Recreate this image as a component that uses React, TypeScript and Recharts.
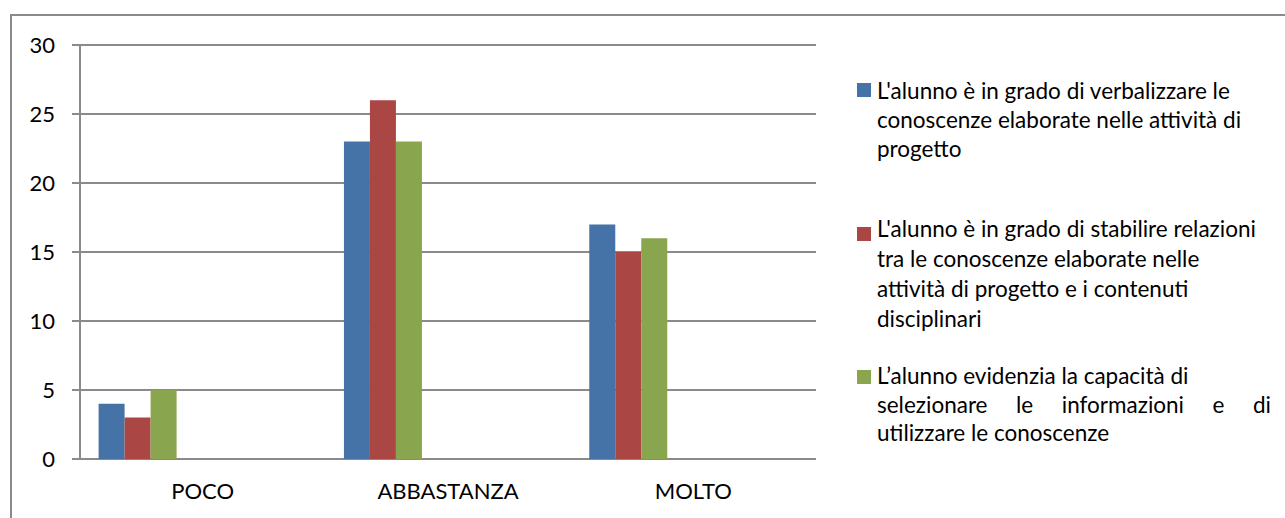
import React from 'react';
import { BarChart, Bar, XAxis, YAxis, CartesianGrid } from 'recharts';

const categories = ['POCO', 'ABBASTANZA', 'MOLTO'];
const verbalizzare = [4, 23, 17];
const relazioni = [3, 26, 15];
const selezionare = [5, 23, 16];
const yTicks = [0, 5, 10, 15, 20, 25, 30];
const edgeTicks = [0, 1, 2, 3];

const COLORS = ['#4572A7', '#AA4643', '#89A54E'];
const GRID = '#8a8a8a';
const FONT = 'Lato, "Open Sans", sans-serif';

const data = categories.map((name, i) => ({
  name,
  s1: verbalizzare[i],
  s2: relazioni[i],
  s3: selezionare[i],
}));

// legend lines kept as written in the original
const legendItems = [
  {
    color: COLORS[0],
    top: 76,
    box: 83,
    lh: 29,
    lines: ["L'alunno è in grado di verbalizzare le", 'conoscenze elaborate nelle attività di', 'progetto'],
  },
  {
    color: COLORS[1],
    top: 214,
    box: 227,
    lh: 30,
    lines: ["L'alunno è in grado di stabilire relazioni", 'tra le conoscenze elaborate nelle', 'attività di progetto e i contenuti', 'disciplinari'],
  },
  {
    color: COLORS[2],
    top: 362,
    box: 370,
    lh: 28.5,
    lines: ['L’alunno evidenzia la capacità di', 'selezionare le informazioni e di', 'utilizzare le conoscenze'],
    justify: 1,
  },
];

export default function App() {
  return (
    <div style={{ position: 'absolute', left: 0, top: 0, width: 1285, height: 518, background: '#fff', overflow: 'hidden', fontFamily: FONT }}>
      <div
        style={{
          position: 'absolute',
          left: 10,
          top: 14,
          width: 1300,
          height: 520,
          borderTop: `2px solid ${GRID}`,
          borderLeft: `2px solid ${GRID}`,
        }}
      />
      <div style={{ position: 'absolute', left: 0, top: 0 }}>
        <BarChart
          width={840}
          height={518}
          data={data}
          margin={{ top: 45, right: 24, bottom: 0, left: 0 }}
          barCategoryGap={18.6}
          barGap={0}
        >
          <CartesianGrid vertical={false} stroke={GRID} strokeWidth={2} />
          <XAxis
            xAxisId="edges"
            type="number"
            domain={[0, 3]}
            ticks={edgeTicks}
            height={0}
            tick={false}
            tickSize={8}
            tickLine={{ stroke: GRID, strokeWidth: 2 }}
            axisLine={{ stroke: GRID, strokeWidth: 2 }}
          />
          <XAxis
            dataKey="name"
            height={59}
            axisLine={false}
            tickLine={false}
            tickSize={0}
            tickMargin={24}
            tick={{ fill: '#000', fontSize: 22, fontFamily: FONT }}
          />
          <YAxis
            width={80}
            domain={[0, 30]}
            ticks={yTicks}
            tickSize={8}
            tickMargin={17}
            axisLine={{ stroke: GRID, strokeWidth: 2 }}
            tickLine={{ stroke: GRID, strokeWidth: 2 }}
            tick={{ fill: '#000', fontSize: 22, fontFamily: FONT }}
          />
          <Bar dataKey="s1" fill={COLORS[0]} isAnimationActive={false} />
          <Bar dataKey="s2" fill={COLORS[1]} isAnimationActive={false} />
          <Bar dataKey="s3" fill={COLORS[2]} isAnimationActive={false} />
          {/* empty slots so the three bars sit at the left of each group, as in the source */}
          <Bar dataKey="e1" isAnimationActive={false} />
          <Bar dataKey="e2" isAnimationActive={false} />
          <Bar dataKey="e3" isAnimationActive={false} />
          <Bar dataKey="e4" isAnimationActive={false} />
          <Bar dataKey="e5" isAnimationActive={false} />
        </BarChart>
      </div>
      {legendItems.map((item) => (
        <React.Fragment key={item.lines[0]}>
          <div style={{ position: 'absolute', left: 857, top: item.box, width: 14, height: 14, background: item.color }} />
          <div style={{ position: 'absolute', left: 877, top: item.top, width: 394, fontSize: 22.5, lineHeight: `${item.lh}px`, color: '#000' }}>
            {item.lines.map((line, j) => (
              <div
                key={j}
                style={{
                  whiteSpace: 'nowrap',
                  textAlign: item.justify === j ? 'justify' : 'left',
                  textAlignLast: item.justify === j ? 'justify' : 'auto',
                }}
              >
                {line}
              </div>
            ))}
          </div>
        </React.Fragment>
      ))}
    </div>
  );
}
